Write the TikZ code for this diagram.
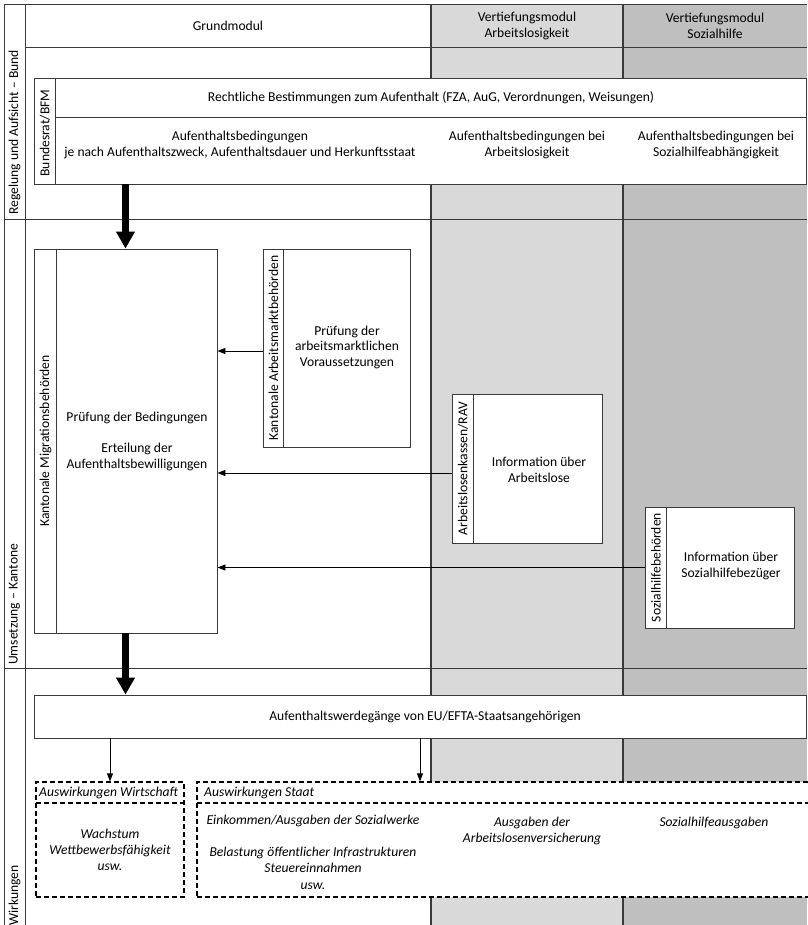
\documentclass[tikz,border=0pt]{standalone}
\usepackage{fontspec}
\setmainfont{Carlito}
\usetikzlibrary{arrows.meta}
\definecolor{laneA}{HTML}{D9D9D9}
\definecolor{laneB}{HTML}{BFBFBF}
\definecolor{rule}{HTML}{3A3A3A}

\begin{document}
\begin{tikzpicture}[x=1pt,y=-1pt,
  font=\fontsize{13.6}{15.5}\selectfont,
  grid/.style={draw=rule, line width=0.9pt},
  lane/.style={draw=rule, line width=1.1pt},
  box/.style={draw=rule, line width=0.9pt, fill=white, inner sep=0pt},
  dbox/.style={draw=black, line width=1.2pt, dash pattern=on 5pt off 3pt, fill=white, inner sep=0pt},
  dline/.style={draw=black, line width=1.2pt, dash pattern=on 5pt off 3pt},
  txt/.style={align=center, inner sep=0pt},
  itxt/.style={align=center, inner sep=0pt, font=\fontsize{13.6}{16.3}\selectfont\itshape},
  vlabel/.style={rotate=90, inner sep=1pt},
  flow/.style={line width=6.5pt, -{Triangle[length=17pt,width=18pt]}},
  feed/.style={line width=0.9pt, draw=black, -{Triangle[length=8pt,width=6pt]}},
]
\useasboundingbox (0,0) rectangle (807,925);

% lanes of the two in-depth modules
\fill[laneA] (431,4) rectangle (623,925);
\fill[laneB] (623,4) rectangle (807,925);

% table grid
\draw[grid] (4,925) -- (4,4) -- (807,4);
\draw[grid] (25,4) -- (25,925);
\draw[grid] (25,47) -- (807,47);
\draw[grid] (4,219) -- (807,219);
\draw[grid] (4,668) -- (807,668);
\draw[lane] (431,4) -- (431,925);
\draw[lane] (623,4) -- (623,925);

% column headers
\node[txt] (hgrund) at (228,26) {Grundmodul};
\node[txt] (halv) at (527,26) {Vertiefungsmodul\\Arbeitslosigkeit};
\node[txt] (hsoz) at (715,26) {Vertiefungsmodul\\Sozialhilfe};

% row labels
\node[vlabel, anchor=west] (lbund) at (14.5,216) {Regelung und Aufsicht – Bund};
\node[vlabel, anchor=west] (lkant) at (14.5,666) {Umsetzung – Kantone};
\node[vlabel, anchor=west] (lwirk) at (14.5,927) {Wirkungen};

% federal level
\node[box, minimum width=772, minimum height=106] (bund) at (420,131) {};
\draw[grid] ([xshift=22pt]bund.north west) -- ([xshift=22pt]bund.south west);
\draw[grid] ([xshift=22pt,yshift=-40pt]bund.north west) -- ([yshift=-40pt]bund.north east);
\node[vlabel] (bundlbl) at (45,133) {Bundesrat/BFM};
\node[txt] (recht) at (431,98) {Rechtliche Bestimmungen zum Aufenthalt (FZA, AuG, Verordnungen, Weisungen)};
\node[txt] (bedg) at (240,145) {Aufenthaltsbedingungen\\je nach Aufenthaltszweck, Aufenthaltsdauer und Herkunftsstaat};
\node[txt] (bedalv) at (527,145) {Aufenthaltsbedingungen bei\\Arbeitslosigkeit};
\node[txt] (bedsoz) at (716,145) {Aufenthaltsbedingungen bei\\Sozialhilfeabhängigkeit};

% cantonal level
\node[box, minimum width=183, minimum height=384] (mig) at (125.5,441) {};
\draw[grid] ([xshift=23pt]mig.north west) -- ([xshift=23pt]mig.south west);
\node[vlabel] (miglbl) at (45.5,441) {Kantonale Migrationsbehörden};
\node[txt] (migtxt) at (137,441) {Prüfung der Bedingungen\\[16pt]Erteilung der\\Aufenthaltsbewilligungen};

\node[box, minimum width=147, minimum height=198] (amb) at (336.5,348) {};
\draw[grid] ([xshift=21pt]amb.north west) -- ([xshift=21pt]amb.south west);
\node[vlabel] (amblbl) at (273.5,348) {Kantonale Arbeitsmarktbehörden};
\node[txt] (ambtxt) at (347,347) {Prüfung der\\arbeitsmarktlichen\\Voraussetzungen};

\node[box, minimum width=150, minimum height=149] (alv) at (527,468.5) {};
\draw[grid] ([xshift=22pt]alv.north west) -- ([xshift=22pt]alv.south west);
\node[vlabel] (alvlbl) at (463,468.5) {Arbeitslosenkassen/RAV};
\node[txt] (alvtxt) at (539,470) {Information über\\Arbeitslose};

\node[box, minimum width=149, minimum height=121] (soz) at (719.5,567.5) {};
\draw[grid] ([xshift=22pt]soz.north west) -- ([xshift=22pt]soz.south west);
\node[vlabel] (sozlbl) at (656,567.5) {Sozialhilfebehörden};
\node[txt] (soztxt) at (731,566) {Information über\\Sozialhilfebezüger};

\coordinate (yamb) at (0,351);
\coordinate (yalv) at (0,473);
\draw[feed] (amb.west |- yamb) -- (mig.east |- yamb);
\draw[feed] (alv.west |- yalv) -- (mig.east |- yalv);
\draw[feed] (soz.west) -- (mig.east |- soz.west);

% effects
\node[box, minimum width=772, minimum height=43] (werd) at (420,716.5) {};
\node[txt] (werdtxt) at (425,717) {Aufenthaltswerdegänge von EU/EFTA-Staatsangehörigen};

\node[dbox, minimum width=148, minimum height=115] (wirt) at (110,839.5) {};
\draw[dline] (36,803) -- (184,803);
\node[itxt, anchor=west] (wirthd) at (39,793) {Auswirkungen Wirtschaft};
\node[itxt] (wirttxt) at (110,850) {Wachstum\\Wettbewerbsfähigkeit\\usw.};

\node[dbox, minimum width=620, minimum height=115] (staat) at (507,839.5) {};
\draw[dline] (197,803) -- (817,803);
\node[itxt, anchor=west] (staathd) at (204,793) {Auswirkungen Staat};
\node[itxt] (staattxt) at (313,852) {Einkommen/Ausgaben der Sozialwerke\\[16pt]Belastung öffentlicher Infrastrukturen\\Steuereinnahmen\\usw.};
\node[itxt] (staatalv) at (532,831) {Ausgaben der\\Arbeitslosenversicherung};
\node[itxt] (staatsoz) at (714,823) {Sozialhilfeausgaben};

% main flow
\draw[flow] (mig.north |- bund.south) -- (mig.north);
\draw[flow] (mig.south) -- (mig.south |- werd.north);
\draw[feed] (wirt.north |- werd.south) -- (wirt.north);
\draw[feed] (werd.south) -- (werd.south |- staat.north);
\end{tikzpicture}
\end{document}
